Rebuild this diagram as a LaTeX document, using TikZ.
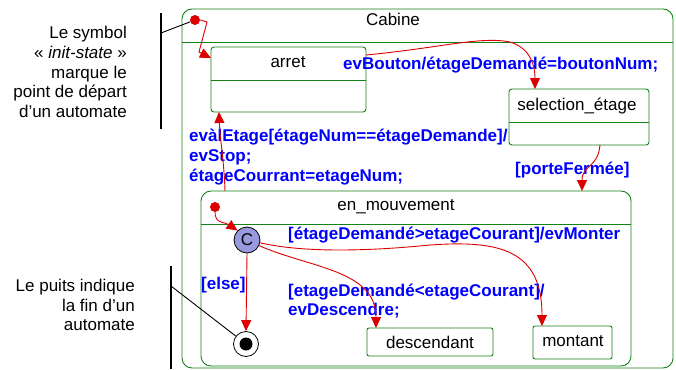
\documentclass[tikz,border=0pt]{standalone}
\usepackage{fontspec}
\setmainfont{Liberation Sans}
\usetikzlibrary{arrows.meta}
\definecolor{sgreen}{RGB}{20,130,20}
\definecolor{lblue}{RGB}{0,0,255}
\definecolor{ared}{RGB}{221,0,0}
\definecolor{cfill}{RGB}{153,153,221}
\begin{document}
\begin{tikzpicture}[x=1pt,y=-1pt,
  state/.style={draw=sgreen, line width=0.9pt, rounded corners=3pt, inner sep=0, outer sep=0, fill=white, anchor=north west},
  lbl/.style={font=\fontsize{17}{20}\selectfont\bfseries, text=lblue, inner sep=0, anchor=base west},
  txt/.style={font=\fontsize{17}{20}\selectfont, inner sep=0, anchor=base},
  note/.style={font=\fontsize{17}{20}\selectfont, inner sep=0, anchor=base east},
  tr/.style={draw=ared, line width=0.9pt, -{Triangle[length=11pt,width=10pt]}},
  dot/.style={circle, fill=ared, minimum size=10pt, inner sep=0},
]
\useasboundingbox (0,0) rectangle (676,369);
\fill[white] (0,0) rectangle (676,369);

% Cabine
\node[state, rounded corners=10pt, minimum width=491pt, minimum height=359pt] (cabine) at (182,9) {};
\draw[sgreen, line width=0.9pt] (cabine.west |- 0,42.5) -- (cabine.east |- 0,42.5);
\node[txt] (cabinet) at (393,26) {Cabine};

% arret
\node[state, minimum width=155pt, minimum height=65pt] (arret) at (211,47) {};
\draw[sgreen, line width=0.9pt] (arret.west |- 0,80) -- (arret.east |- 0,80);
\node[txt] (arrett) at (288,67) {arret};

% selection
\node[state, minimum width=140pt, minimum height=56pt] (selection) at (509,89) {};
\draw[sgreen, line width=0.9pt] (selection.west |- 0,122) -- (selection.east |- 0,122);
\node[txt] (selt) at (577,110) {selection\_étage};

% en_mouvement
\node[state, rounded corners=10pt, minimum width=430pt, minimum height=175pt] (enmouv) at (201,191) {};
\draw[sgreen, line width=0.9pt] (enmouv.west |- 0,224) -- (enmouv.east |- 0,224);
\node[txt] (enmt) at (396,210) {en\_mouvement};

% descendant / montant
\node[state, rounded corners=2pt, minimum width=126pt, minimum height=28pt] (descendant) at (367,328) {};
\node[txt] (desct) at (430,348) {descendant};
\node[state, rounded corners=2pt, minimum width=79pt, minimum height=33pt] (montant) at (533,326) {};
\node[txt] (montt) at (573,346) {montant};

% pseudo states
\node[dot] (init1) at (195,20) {};
\node[dot] (init2) at (215,207) {};
\node[circle, draw=black, line width=0.8pt, fill=cfill, minimum size=26pt, inner sep=0, font=\fontsize{17}{20}\selectfont] (choice) at (247,240) {C};
\node[circle, draw=black, line width=0.8pt, fill=white, minimum size=25pt, inner sep=0] (final) at (246,344) {};
\node[circle, fill=black, minimum size=13pt, inner sep=0] (finalin) at (final) {};

% notes
\node[note] (t1) at (127,38) {Le symbol};
\node[note] (t2) at (127,58) {« \textit{init-state} »};
\node[note] (t3) at (127,78) {marque le};
\node[note] (t4) at (127,97) {point de départ};
\node[note] (t5) at (127,117) {d’un automate};
\node[note] (b1) at (135,291) {Le puits indique};
\node[note] (b2) at (135,311) {la fin d’un};
\node[note] (b3) at (135,330) {automate};
\coordinate (v1a) at (161,13);
\coordinate (v1b) at (161,129);
\coordinate (n1) at (161,33);
\coordinate (v2a) at (171,266);
\coordinate (v2b) at (171,369);
\coordinate (n2) at (171,286);
\draw[line width=1.3pt] (v1a) -- (v1b);
\draw[line width=0.9pt] (n1) -- (init1);
\draw[line width=1.3pt] (v2a) -- (v2b);
\draw[line width=0.9pt] (n2) -- (final);

% labels
\node[lbl] (l1) at (343,69) {evBouton/étageDemandé=boutonNum;};
\node[lbl] (l2a) at (189,141) {evàlEtage[étageNum==étageDemande]/};
\node[lbl] (l2b) at (189,161) {evStop;};
\node[lbl] (l2c) at (189,181) {étageCourrant=etageNum;};
\node[lbl] (l3) at (515,174) {[porteFermée]};
\node[lbl] (l4) at (288,239) {[étageDemandé>etageCourant]/evMonter};
\node[lbl] (l5) at (201,289) {[else]};
\node[lbl] (l6a) at (288,296) {[etageDemandé<etageCourant]/};
\node[lbl] (l6b) at (288,315) {evDescendre;};

% transitions
\draw[tr] (init1.east) -- (207,22) -- (199,52) -- (arret.west |- 0,58);
\draw[tr] (arret.east |- 0,55) .. controls (440,48) and (480,36) .. (510,42) .. controls (530,48) and (535,65) .. (selection.north -| 535,0);
\draw[tr] (selection.south -| 600,0) .. controls (598,168) and (582,165) .. (enmouv.north -| 582,0);
\draw[tr] (enmouv.north -| 225,0) .. controls (224,160) and (220,140) .. (arret.south -| 219,0);
\draw[tr] (init2.south) .. controls (215,224) and (225,222) .. (choice.north west);
\draw[tr] (choice.south) -- (final.north);
\draw[tr] (choice.-25) .. controls (310,268) and (376,270) .. (descendant.north -| 376,0);
\draw[tr] (choice.-12) .. controls (300,252) and (360,252) .. (430,245) .. controls (500,240) and (542,250) .. (montant.north -| 542,0);
\end{tikzpicture}
\end{document}
